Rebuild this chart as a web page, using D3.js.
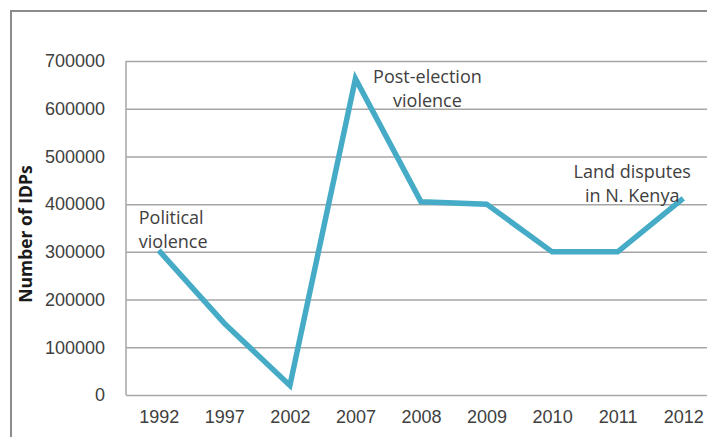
<!DOCTYPE html>
<html>
<head>
<meta charset="utf-8">
<script src="https://cdn.jsdelivr.net/npm/d3@7"></script>
<style>
  html, body { margin: 0; padding: 0; background: #fff; overflow: hidden; }
  svg { display: block; font-family: 'Open Sans', sans-serif; }
</style>
</head>
<body>
<div id="chart"></div>
<script>
const years = ['1992', '1997', '2002', '2007', '2008', '2009', '2010', '2011', '2012']
const idps = [303000, 150000, 20000, 663000, 405000, 400000, 300000, 300000, 412000]
const yTicks = [0, 100000, 200000, 300000, 400000, 500000, 600000, 700000]
const notes = [
  { year: '1992', value: 300000, lines: ['Political', 'violence'] },
  { year: '2007', value: 663000, lines: ['Post-election', 'violence'] },
  { year: '2012', value: 412000, lines: ['Land disputes', 'in N. Kenya'] }
]

const width = 707
const height = 437
const margin = { top: 61, right: -9, bottom: 42, left: 126 }
const textColor = '#404040'
const fontSize = '18px'

const svg = d3.select('#chart').append('svg').attr('width', width).attr('height', height)

// outer chart frame
svg.append('rect')
  .attr('x', 11).attr('y', 11)
  .attr('width', width + 20).attr('height', height + 20)
  .attr('fill', 'none').attr('stroke', '#8c8c8c').attr('stroke-width', 2)

const x = d3.scalePoint()
  .domain(years)
  .range([margin.left, width - margin.right])
  .padding(0.5)

const y = d3.scaleLinear()
  .domain([0, 700000])
  .range([height - margin.bottom, margin.top])

// gridlines + y labels
const yAxis = svg.append('g')
  .attr('transform', `translate(${margin.left},0)`)
  .call(d3.axisLeft(y).tickValues(yTicks).tickSize(-(width - margin.right - margin.left)).tickPadding(21).tickFormat(d3.format('d')))
yAxis.select('.domain').remove()
yAxis.selectAll('.tick line').attr('stroke', '#a6a6a6').attr('stroke-width', 1.5)
yAxis.selectAll('.tick text').attr('fill', textColor).style('font-size', fontSize)

// left axis line
svg.append('line')
  .attr('x1', margin.left).attr('x2', margin.left)
  .attr('y1', y(700000)).attr('y2', y(0))
  .attr('stroke', '#a6a6a6').attr('stroke-width', 1.5)

// x labels
const xAxis = svg.append('g')
  .attr('transform', `translate(0,${y(0)})`)
  .call(d3.axisBottom(x).tickSize(0).tickPadding(15))
xAxis.select('.domain').remove()
xAxis.selectAll('.tick text').attr('fill', textColor).style('font-size', fontSize)

// y title
svg.append('text')
  .attr('transform', `translate(32,${(y(0) + y(700000)) / 2 + 6}) rotate(-90)`)
  .attr('text-anchor', 'middle')
  .attr('fill', '#1a1a1a')
  .style('font-size', '17.5px')
  .style('font-weight', 'bold')
  .text('Number of IDPs')

// the line
const line = d3.line()
  .x((d, i) => x(years[i]))
  .y(d => y(d))

svg.append('path')
  .datum(idps)
  .attr('d', line)
  .attr('fill', 'none')
  .attr('stroke', '#45abc6')
  .attr('stroke-width', 5.5)
  .attr('stroke-linejoin', 'miter')

// annotations
const placements = {
  '1992': { dx: -20, dy: -28, anchor: 'start' },
  '2007': { dx: 72, dy: 4, anchor: 'middle' },
  '2012': { dx: -51, dy: -20, anchor: 'middle' }
}

notes.forEach(n => {
  const p = placements[n.year]
  const t = svg.append('text')
    .attr('x', x(n.year) + p.dx)
    .attr('y', y(n.value) + p.dy)
    .attr('text-anchor', p.anchor)
    .attr('fill', textColor)
    .style('font-size', fontSize)
  n.lines.forEach((l, i) => {
    t.append('tspan')
      .attr('x', x(n.year) + p.dx)
      .attr('dy', i === 0 ? 0 : 24)
      .text(l)
  })
})
</script>
</body>
</html>
